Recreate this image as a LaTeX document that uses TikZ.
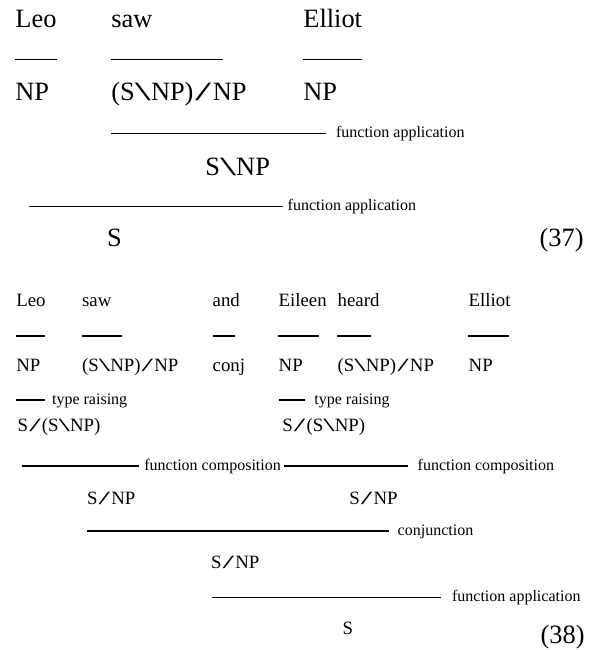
\documentclass[tikz,border=0pt]{standalone}
\usepackage{fontspec}
\setmainfont{Liberation Serif}
\usepackage{graphicx}
\usepackage{tikz}
\newcommand{\bs}{\scalebox{2.2}[1]{\textbackslash}}
\newcommand{\sla}{\kern0.06em\scalebox{2.2}[1]{/}\kern0.06em}

\begin{document}
\begin{tikzpicture}[x=0.5pt,y=-0.5pt,
  big/.style={inner sep=0pt,anchor=base west,font=\fontsize{13.2}{15}\selectfont},
  mid/.style={inner sep=0pt,anchor=base west,font=\fontsize{9.4}{11}\selectfont},
  lab/.style={inner sep=0pt,anchor=base west,font=\fontsize{8}{9.5}\selectfont},
  bar/.style={line width=0.6pt}]
\useasboundingbox (0,0) rectangle (599,650);
\node[big] (leoA) at (15,27.3) {Leo};
\node[big] (sawA) at (111,27.3) {saw};
\node[big] (ellA) at (303,27.3) {Elliot};
\draw[bar] (15,59.3) -- (56.7,59.3);
\draw[bar] (111,59.3) -- (222.7,59.3);
\draw[bar] (303,59.3) -- (362.3,59.3);
\node[big] (npA) at (15,100) {NP};
\node[big] (tvA) at (111,100) {(S\bs NP)\sla NP};
\node[big] (npB) at (303,100) {NP};
\draw[bar] (111,133.3) -- (325.7,133.3);
\node[lab] (faA) at (335.7,137.3) {function application};
\node[big] (vpA) at (205,175) {S\bs NP};
\draw[bar] (29.3,206.7) -- (283,206.7);
\node[lab] (faB) at (287.3,210.7) {function application};
\node[big] (sA) at (106.7,246) {S};
\node[big,anchor=base east] (exA) at (584,246.7) {(37)};
\node[mid] (leoB) at (16,306.7) {Leo};
\node[mid] (sawB) at (81.7,306.7) {saw};
\node[mid] (andB) at (212.3,306.7) {and};
\node[mid] (eilB) at (278.3,306.7) {Eileen};
\node[mid] (hrdB) at (337.3,306.7) {heard};
\node[mid] (ellB) at (468.3,306.7) {Elliot};
\draw[bar] (16,336) -- (45,336);
\draw[bar] (81.7,336) -- (121.7,336);
\draw[bar] (213.3,336) -- (235,336);
\draw[bar] (278.3,336) -- (319,336);
\draw[bar] (337.3,336) -- (370.7,336);
\draw[bar] (468.3,336) -- (509,336);
\node[mid] (npC) at (16,371.7) {NP};
\node[mid] (tvB) at (81.7,371.7) {(S\bs NP)\sla NP};
\node[mid] (cjB) at (212.3,371.7) {conj};
\node[mid] (npD) at (278.3,371.7) {NP};
\node[mid] (tvC) at (337.3,371.7) {(S\bs NP)\sla NP};
\node[mid] (npE) at (468.3,371.7) {NP};
\draw[bar] (16,400) -- (45,400);
\node[lab] (trA) at (51.7,404) {type raising};
\draw[bar] (279,400) -- (305,400);
\node[lab] (trB) at (314,404) {type raising};
\node[mid] (trsA) at (17.3,431) {S\sla(S\bs NP)};
\node[mid] (trsB) at (282,431) {S\sla(S\bs NP)};
\draw[bar] (21.7,466) -- (139.3,466);
\node[lab] (fcA) at (144,470) {function composition};
\draw[bar] (284,466) -- (408,466);
\node[lab] (fcB) at (417.3,470) {function composition};
\node[mid] (snA) at (86.7,504) {S\sla NP};
\node[mid] (snB) at (349,504) {S\sla NP};
\draw[bar] (87.3,531) -- (389,531);
\node[lab] (cnj) at (397.3,535) {conjunction};
\node[mid] (snC) at (210.7,568.3) {S\sla NP};
\draw[bar] (212,597.7) -- (440.7,597.7);
\node[lab] (faC) at (451.7,601.7) {function application};
\node[mid] (sB) at (342.3,634) {S};
\node[big,anchor=base east] (exB) at (585,643.3) {(38)};
\end{tikzpicture}
\end{document}
